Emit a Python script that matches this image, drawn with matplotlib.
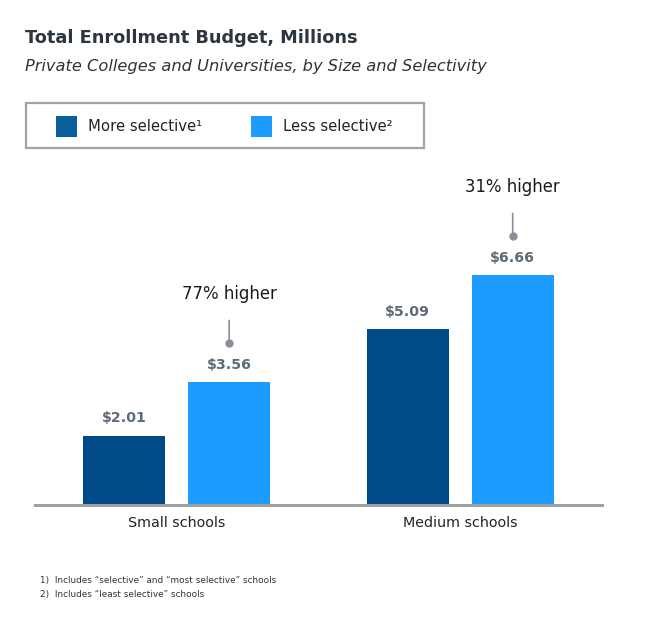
import matplotlib
matplotlib.use("Agg")
import matplotlib.pyplot as plt
from matplotlib.patches import Rectangle
from matplotlib.transforms import offset_copy

categories = ["Small schools", "Medium schools"]
more_selective = [2.01, 5.09]
less_selective = [3.56, 6.66]
series_labels = ["More selective\u00b9", "Less selective\u00b2"]
annotations = ["77% higher", "31% higher"]
footnotes = ["1)  Includes \u201cselective\u201d and \u201cmost selective\u201d schools",
             "2)  Includes \u201cleast selective\u201d schools"]

plt.rcParams['font.family'] = ['DejaVu Sans']

W, H = 650, 624
fig = plt.figure(figsize=(W / 100, H / 100), dpi=100)
fig.patch.set_facecolor("white")

def fx(px):
    return px / W

def fy(py):
    return 1 - py / H

ax = fig.add_axes([fx(35), fy(505), fx(602) - fx(35), (505 - 160) / H])
ax.set_xlim(-0.5, 1.5)
ax.set_ylim(0, 10)

dark_bar = "#004a87"
light_bar = "#1e9bff"
dark_leg = "#0a5f9a"
label_col = "#5d6b78"

w = 0.289
off = 0.185
xs = list(range(len(categories)))
b1 = ax.bar([x - off for x in xs], more_selective, width=w, color=dark_bar)
b2 = ax.bar([x + off for x in xs], less_selective, width=w, color=light_bar)

for bars, vals in ((b1, more_selective), (b2, less_selective)):
    for rect, v in zip(bars, vals):
        cx = rect.get_x() + rect.get_width() / 2
        ax.annotate(f"${v:.2f}", xy=(cx, v), xytext=(0, 12.5), textcoords="offset points",
                    ha="center", va="center", fontsize=10.2, fontweight="bold", color=label_col)

for rect, v, txt in zip(b2, less_selective, annotations):
    cx = rect.get_x() + rect.get_width() / 2
    ax.annotate("", xy=(cx, v), xycoords="data", xytext=(0, 44.5), textcoords="offset points",
                arrowprops=dict(arrowstyle="-", color="#8a9098", lw=1.2, shrinkA=0, shrinkB=28))
    tr = offset_copy(ax.transData, fig=fig, x=0, y=28, units="points")
    ax.plot([cx], [v], marker="o", markersize=5, color="#8a9098", transform=tr, clip_on=False)
    ax.annotate(txt, xy=(cx, v), xytext=(0, 63.5), textcoords="offset points",
                ha="center", va="center", fontsize=11.9, color="#1a1a1a")

for s in ("top", "left", "right"):
    ax.spines[s].set_visible(False)
ax.spines["bottom"].set_color("#a0a0a0")
ax.spines["bottom"].set_linewidth(2.2)
ax.set_yticks([])
ax.set_xticks(xs)
ax.set_xticklabels(categories, fontsize=10.3, color="#222222")
ax.tick_params(axis="x", length=0, pad=8)

# Title and subtitle
fig.text(fx(25), fy(38), "Total Enrollment Budget, Millions", fontsize=12.8, fontweight="bold",
         color="#2b3640", ha="left", va="center")
fig.text(fx(25), fy(67), "Private Colleges and Universities, by Size and Selectivity", fontsize=11.7,
         style="italic", color="#333333", ha="left", va="center")

# Legend box
fig.patches.append(Rectangle((fx(26), fy(148)), fx(424) - fx(26), (148 - 103) / H,
                             transform=fig.transFigure, facecolor="white", edgecolor="#a0a4a8", lw=1.6))
for (sx, tx), col, lab in zip(((56, 88), (251, 283)), (dark_leg, light_bar), series_labels):
    fig.patches.append(Rectangle((fx(sx), fy(137)), 21 / W, 21 / H, transform=fig.transFigure,
                                 facecolor=col, edgecolor="none"))
    fig.text(fx(tx), fy(126.5), lab, fontsize=10.7, color="#222222", ha="left", va="center")

# Footnotes
for i, fn in enumerate(footnotes):
    fig.text(fx(40), fy(581 + 14 * i), fn, fontsize=6.4, color="#333333", ha="left", va="center")

fig.savefig("out.png", dpi=100, facecolor="white")
